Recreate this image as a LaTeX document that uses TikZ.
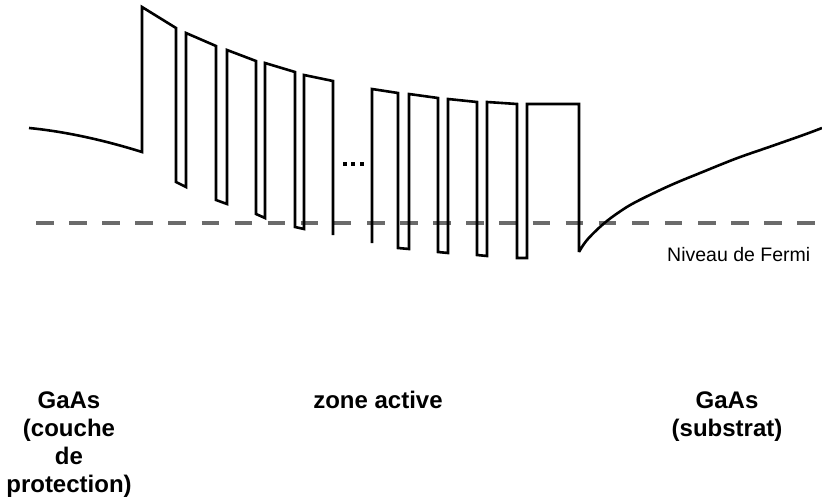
\documentclass[tikz,border=0pt]{standalone}
\usepackage{fontspec}
\newfontfamily\lsans{Liberation Sans}
\begin{document}
\begin{tikzpicture}[x=1pt,y=-1pt,
  band/.style={draw=black,line width=2.6pt,line join=miter},
  fermi/.style={draw=fermigray,line width=4pt,dash pattern=on 17.5pt off 15.6pt},
  lbl/.style={font=\lsans\bfseries\fontsize{24}{28}\selectfont,inner sep=0pt,anchor=base},
  fermilbl/.style={font=\lsans\fontsize{19.5}{22}\selectfont,inner sep=0pt,anchor=base west}]
\definecolor{fermigray}{HTML}{6B6B6B}
\useasboundingbox (0,0) rectangle (822,500);
% Fermi level
\coordinate (fl) at (36,222.7);
\coordinate (fr) at (822,222.7);
\draw[fermi] (fl) -- (fr);
% band profile, first group
\coordinate (capL) at (29,128);
\coordinate (capR) at (142,152);
\draw[band] (capL) .. controls (70,132) and (110,142) .. (capR)
  -- (142,7) -- (176,28) -- (176,182) -- (186,187)
  -- (186,33) -- (216,46) -- (216,200) -- (227,204)
  -- (227,50) -- (256,61) -- (256,214) -- (265,218)
  -- (265,63) -- (295,72) -- (295,227) -- (304,229)
  -- (304,75) -- (333,81) -- (333,235);
% dots
\node[fill=black,minimum size=4pt,inner sep=0pt] (d1) at (344.5,164) {};
\node[fill=black,minimum size=4pt,inner sep=0pt] (d2) at (353,164) {};
\node[fill=black,minimum size=4pt,inner sep=0pt] (d3) at (361.5,164) {};
% second group and substrate
\draw[band] (372,243) -- (372,89) -- (398,93) -- (398,248) -- (409,249)
  -- (409,94) -- (438,98) -- (438,252) -- (448,253)
  -- (448,99) -- (477,102) -- (477,255) -- (487,256)
  -- (487,102) -- (517,104) -- (517,258) -- (527,258)
  -- (527,104) -- (579,104) -- (579,252)
  plot[smooth,tension=0.6] coordinates {(579,252) (587,240) (603.3,224) (620,211.5) (636.7,201.5) (670,185.5) (703.3,171.7) (736.7,158.3) (770,146.7) (803.3,135) (822,128)};
% labels
\node[fermilbl] (nf) at (667,261.5) {Niveau de Fermi};
\node[lbl] (g1) at (69,408.5) {GaAs};
\node[lbl] (g2) at (69,436.5) {(couche};
\node[lbl] (g3) at (69,464.5) {de};
\node[lbl] (g4) at (69,492.5) {protection)};
\node[lbl] (za) at (378,408) {zone active};
\node[lbl] (s1) at (727,408.5) {GaAs};
\node[lbl] (s2) at (727,436.5) {(substrat)};
\end{tikzpicture}
\end{document}
